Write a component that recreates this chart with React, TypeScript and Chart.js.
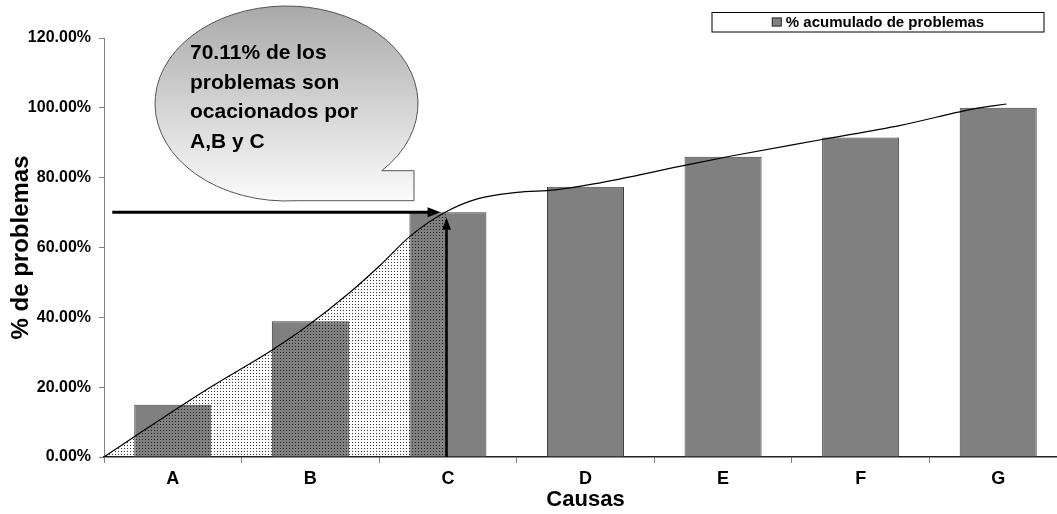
import React, { useEffect, useRef } from "react";
import { Chart, registerables } from "chart.js";

Chart.register(...registerables);

// ---- data ----
const categories = ["A", "B", "C", "D", "E", "F", "G"];
const cumulativePercent = [15.0, 38.9, 70.11, 77.4, 86.0, 91.5, 100.0];
// hand-drawn cumulative curve (x in category-index units, y in %)
const curveX = [-0.5, -0.28, 0.27, 0.72, 0.97, 1.28, 1.51, 1.73, 1.99, 2.22, 2.5, 2.78, 3.06, 3.73, 4.06, 4.73, 5.29, 5.85, 6.06];
const curveY = [0, 5.8, 19.9, 30.6, 37.3, 46.9, 55.0, 63.4, 70.3, 74.0, 75.8, 76.5, 78.2, 83.6, 86.2, 91.0, 95.0, 99.9, 101.1];
const yTicks = [0, 20, 40, 60, 80, 100, 120];
const shadedUpTo = 1.99;
const arrowValue = 70.11;
const arrowStartX = -0.44;
const arrowEndX = 1.99;
const verticalArrowTip = 68.5;
const calloutLines = ["70.11% de los", "problemas son", "ocacionados por", "A,B y C"];
const legendLabel = "% acumulado de problemas";
const xTitle = "Causas";
const yTitle = "% de problemas";

const FONT = "'Liberation Sans', Arial, Helvetica, sans-serif";

function makeDotPattern(): CanvasPattern | string {
  const c = document.createElement("canvas");
  c.width = 3;
  c.height = 3;
  const g = c.getContext("2d");
  if (!g) return "rgba(0,0,0,0.15)";
  g.fillStyle = "rgba(20,20,20,0.85)";
  g.fillRect(1, 1, 1, 1);
  const p = g.createPattern(c, "repeat");
  return p || "rgba(0,0,0,0.15)";
}

const overlayPlugin = {
  id: "paretoOverlay",
  afterDatasetsDraw(chart: any) {
    const { ctx } = chart;
    const xs = chart.scales.x2;
    const ys = chart.scales.y;
    ctx.save();
    ctx.fillStyle = "#000";
    ctx.strokeStyle = "#000";
    // horizontal arrow
    const hy = ys.getPixelForValue(arrowValue);
    const hx0 = xs.getPixelForValue(arrowStartX);
    const hx1 = xs.getPixelForValue(arrowEndX) - 6;
    ctx.lineWidth = 3;
    ctx.beginPath();
    ctx.moveTo(hx0, hy);
    ctx.lineTo(hx1 - 10, hy);
    ctx.stroke();
    ctx.beginPath();
    ctx.moveTo(hx1, hy);
    ctx.lineTo(hx1 - 13, hy - 5);
    ctx.lineTo(hx1 - 13, hy + 5);
    ctx.closePath();
    ctx.fill();
    // vertical arrow
    const vx = xs.getPixelForValue(arrowEndX);
    const vy0 = ys.getPixelForValue(0);
    const vy1 = ys.getPixelForValue(verticalArrowTip);
    ctx.lineWidth = 2.5;
    ctx.beginPath();
    ctx.moveTo(vx, vy0);
    ctx.lineTo(vx, vy1 + 10);
    ctx.stroke();
    ctx.beginPath();
    ctx.moveTo(vx, vy1);
    ctx.lineTo(vx - 4.5, vy1 + 12);
    ctx.lineTo(vx + 4.5, vy1 + 12);
    ctx.closePath();
    ctx.fill();
    ctx.restore();
  },
  afterDraw(chart: any) {
    const { ctx } = chart;
    ctx.save();
    // ---- callout bubble ----
    const cx = 286.5, cy = 103.5, rx = 131.5, ry = 97.5;
    const tailTop = 170.7, tailBottom = 200.7, tailRight = 414;
    const a0 = Math.asin((tailTop - cy) / ry);
    const a1 = Math.asin(Math.min(0.999, (tailBottom - cy) / ry));
    ctx.beginPath();
    ctx.ellipse(cx, cy, rx, ry, 0, a0, a1, true);
    ctx.lineTo(tailRight, tailBottom);
    ctx.lineTo(tailRight, tailTop);
    ctx.closePath();
    const grad = ctx.createLinearGradient(0, cy - ry, 0, tailBottom);
    grad.addColorStop(0, "#a9a9a9");
    grad.addColorStop(1, "#fbfbfb");
    ctx.fillStyle = grad;
    ctx.fill();
    ctx.lineWidth = 1;
    ctx.strokeStyle = "#555";
    ctx.stroke();
    ctx.fillStyle = "#000";
    ctx.font = `bold 21px ${FONT}`;
    ctx.textAlign = "left";
    ctx.textBaseline = "alphabetic";
    calloutLines.forEach((t, i) => {
      ctx.fillText(t, 190, 59 + i * 29.6);
    });
    // ---- legend ----
    ctx.font = `bold 15px ${FONT}`;
    const boxL = 712, boxT = 12.5, boxW = 332, boxH = 19.5;
    const tw = ctx.measureText(legendLabel).width;
    const contentW = 10 + 4 + tw;
    const sx = boxL + (boxW - contentW) / 2;
    ctx.fillStyle = "#fff";
    ctx.fillRect(boxL, boxT, boxW, boxH);
    ctx.strokeStyle = "#000";
    ctx.lineWidth = 1;
    ctx.strokeRect(boxL, boxT, boxW, boxH);
    ctx.fillStyle = "#808080";
    ctx.fillRect(sx, boxT + 5, 10, 9);
    ctx.strokeStyle = "#333";
    ctx.strokeRect(sx + 0.5, boxT + 5.5, 9, 8);
    ctx.fillStyle = "#000";
    ctx.textBaseline = "middle";
    ctx.fillText(legendLabel, sx + 14, boxT + boxH / 2 + 0.5);
    ctx.restore();
  },
};

export default function App() {
  const ref = useRef<HTMLCanvasElement | null>(null);

  useEffect(() => {
    if (!ref.current) return;
    const pattern = makeDotPattern();
    const curve = curveX.map((x, i) => ({ x, y: curveY[i] }));
    const shaded = curve.filter((p) => p.x <= shadedUpTo + 1e-9);

    const chart = new Chart(ref.current, {
      type: "line",
      data: {
        labels: categories,
        datasets: [
          {
            type: "line",
            label: "curva",
            data: curve as any,
            xAxisID: "x2",
            yAxisID: "y",
            borderColor: "#000",
            borderWidth: 1.2,
            pointRadius: 0,
            fill: false,
            cubicInterpolationMode: "monotone",
            order: 0,
          } as any,
          {
            type: "line",
            label: "sombreado",
            data: shaded as any,
            xAxisID: "x2",
            yAxisID: "y",
            borderWidth: 0,
            borderColor: "rgba(0,0,0,0)",
            backgroundColor: pattern as any,
            pointRadius: 0,
            fill: "origin",
            cubicInterpolationMode: "monotone",
            order: 1,
          } as any,
          {
            type: "bar",
            label: legendLabel,
            data: cumulativePercent,
            xAxisID: "x",
            yAxisID: "y",
            backgroundColor: "#808080",
            borderColor: "#404040",
            borderWidth: 1,
            grouped: false,
            barPercentage: 0.56,
            categoryPercentage: 1,
            order: 2,
          } as any,
        ],
      },
      options: {
        responsive: false,
        animation: false,
        devicePixelRatio: 1,
        layout: { padding: { left: 0, right: 13, top: 38, bottom: 0 } },
        plugins: {
          legend: { display: false },
          tooltip: { enabled: false },
        },
        scales: {
          x: {
            type: "category",
            position: "bottom",
            offset: true,
            afterFit: (s: any) => {
              s.height = 57;
            },
            grid: {
              display: true,
              offset: true,
              drawOnChartArea: false,
              drawTicks: true,
              tickLength: 6,
              color: "#808080",
            },
            border: { display: true, color: "#222", width: 1.5 },
            ticks: {
              color: "#000",
              font: { family: FONT, size: 18, weight: "bold" },
              padding: 5,
              maxRotation: 0,
              autoSkip: false,
            },
            title: {
              display: true,
              text: xTitle,
              color: "#000",
              font: { family: FONT, size: 22, weight: "bold" },
              padding: { top: 0, bottom: 1 },
            },
          },
          x2: {
            type: "linear",
            display: false,
            offset: false,
            min: -0.5,
            max: 6.5,
          },
          y: {
            type: "linear",
            position: "left",
            min: 0,
            max: 120,
            afterFit: (s: any) => {
              s.width = 104;
            },
            afterBuildTicks: (s: any) => {
              s.ticks = yTicks.map((v) => ({ value: v }));
            },
            grid: {
              display: true,
              drawOnChartArea: false,
              drawTicks: true,
              tickLength: 5,
              color: "#808080",
            },
            border: { display: true, color: "#808080", width: 1 },
            ticks: {
              color: "#000",
              font: { family: FONT, size: 16, weight: "bold" },
              padding: 8,
              callback: (v: any) => Number(v).toFixed(2) + "%",
            },
            title: {
              display: true,
              text: yTitle,
              color: "#000",
              font: { family: FONT, size: 24, weight: "bold" },
              padding: { top: 7, bottom: 0 },
            },
          },
        },
      },
      plugins: [overlayPlugin],
    });
    return () => chart.destroy();
  }, []);

  return (
    <div
      style={{
        position: "fixed",
        left: 0,
        top: 0,
        width: 1057,
        height: 514,
        overflow: "hidden",
        background: "#fff",
      }}
    >
      <canvas ref={ref} width={1080} height={514} style={{ display: "block" }} />
    </div>
  );
}
